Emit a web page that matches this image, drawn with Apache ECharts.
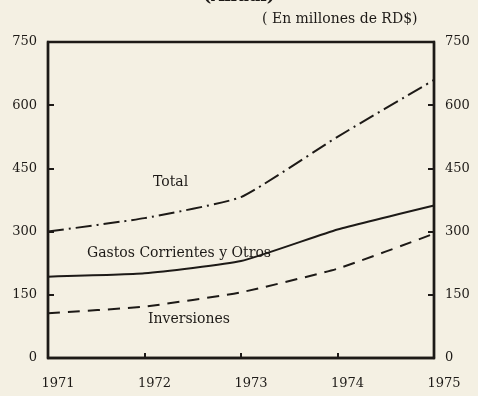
<!DOCTYPE html>
<html>
<head>
<meta charset="utf-8">
<script src="https://cdn.jsdelivr.net/npm/echarts@6/dist/echarts.min.js"></script>
<style>
  html, body { margin: 0; padding: 0; background: #f4f0e3; }
  #chart { width: 478px; height: 396px; }
</style>
</head>
<body>
<div id="chart"></div>
<script>
// Gasto público anual, en millones de RD$
const years = [1971, 1972, 1973, 1974, 1975];
const total = [300, 332, 382, 525, 660];
const gastosCorrientes = [193, 201, 230, 305, 362];
const inversiones = [106, 122, 156, 212, 295];
const yTicks = [0, 150, 300, 450, 600, 750];

const ink = '#1d1a17';
const serif = '"DejaVu Serif", "Liberation Serif", serif';

const chart = echarts.init(document.getElementById('chart'));

function seriesOf(name, values, dash) {
  return {
    name: name,
    type: 'line',
    data: years.map((y, i) => [y, values[i]]),
    symbol: 'none',
    smooth: 0.15,
    lineStyle: { color: ink, width: 2, type: dash },
    z: 3
  };
}

chart.setOption({
  backgroundColor: '#f4f0e3',
  animation: false,
  grid: {
    left: 48, right: 44, top: 42, bottom: 38,
    show: true, borderColor: ink, borderWidth: 2.4, backgroundColor: 'transparent'
  },
  xAxis: {
    type: 'value', min: years[0], max: years[years.length - 1], interval: 1,
    axisLine: { show: true, lineStyle: { color: ink, width: 2.4 } },
    axisTick: { show: true, inside: true, length: 5, lineStyle: { color: ink, width: 2 } },
    splitLine: { show: false },
    axisLabel: {
      color: ink, fontFamily: serif, fontSize: 13, margin: 19,
      padding: [0, 0, 0, 20],
      formatter: v => String(v)
    }
  },
  yAxis: [
    {
      type: 'value', min: yTicks[0], max: yTicks[yTicks.length - 1], interval: 150,
      position: 'left',
      axisLine: { show: true, lineStyle: { color: ink, width: 2.4 } },
      axisTick: { show: true, inside: true, length: 6, lineStyle: { color: ink, width: 2 } },
      splitLine: { show: false },
      axisLabel: { color: ink, fontFamily: serif, fontSize: 13, margin: 11 }
    },
    {
      type: 'value', min: yTicks[0], max: yTicks[yTicks.length - 1], interval: 150,
      position: 'right',
      axisLine: { show: true, lineStyle: { color: ink, width: 2.4 } },
      axisTick: { show: true, inside: true, length: 6, lineStyle: { color: ink, width: 2 } },
      splitLine: { show: false },
      axisLabel: { color: ink, fontFamily: serif, fontSize: 13, margin: 11 }
    }
  ],
  series: [
    seriesOf('Total', total, [16, 5, 2, 5]),
    seriesOf('Gastos Corrientes y Otros', gastosCorrientes, 'solid'),
    seriesOf('Inversiones', inversiones, [12, 8])
  ],
  graphic: [
    { type: 'text', left: 'center', top: -12, style: { text: '(Anual)', font: 'bold 17px ' + serif, fill: ink } },
    { type: 'text', left: 262, top: 12, style: { text: '( En millones de RD$)', font: '14px ' + serif, fill: ink } },
    { type: 'text', left: 153, top: 175, style: { text: 'Total', font: '14px ' + serif, fill: ink } },
    { type: 'text', left: 87, top: 246, style: { text: 'Gastos Corrientes y Otros', font: '14px ' + serif, fill: ink } },
    { type: 'text', left: 148, top: 312, style: { text: 'Inversiones', font: '14px ' + serif, fill: ink } }
  ]
});
</script>
</body>
</html>
